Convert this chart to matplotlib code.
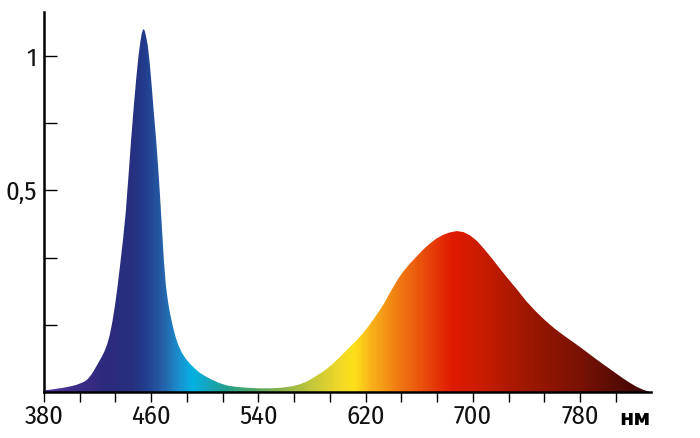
import numpy as np
import matplotlib
matplotlib.use("Agg")
import matplotlib.pyplot as plt
from matplotlib.colors import LinearSegmentedColormap, Normalize
from matplotlib.patches import Polygon

# spectrum (nm, relative intensity)
wavelength = [380, 385, 390, 395, 400, 404, 408, 411, 413, 415, 417, 419, 421, 423,
              425, 427, 429, 431, 433, 435, 437, 439, 441, 443, 445, 447, 449, 450.5,
              452, 453, 454, 455, 456, 457.5, 459, 460.5, 462, 463.5, 465, 466.5,
              468, 469.5, 471, 472.5, 474, 476, 478, 480, 483, 486, 489, 492, 496,
              500, 505, 510, 516, 522, 530, 540, 550, 558, 565, 571, 576, 580, 584,
              588, 592, 596, 600, 604, 608, 613, 618, 622, 626, 630, 634, 637, 640,
              644, 648, 653, 658, 663, 668, 673, 678, 683, 688, 693, 698, 703, 708,
              715, 722, 728, 733, 740, 747, 754, 761, 768, 774, 780, 786, 792, 800,
              806, 812, 817, 822, 827, 832]
intensity = [0.005, 0.007, 0.010, 0.013, 0.017, 0.021, 0.027, 0.033, 0.040, 0.050,
             0.062, 0.076, 0.090, 0.104, 0.120, 0.140, 0.168, 0.208, 0.258, 0.318,
             0.385, 0.455, 0.535, 0.640, 0.750, 0.850, 0.940, 1.000, 1.045, 1.068,
             1.080, 1.077, 1.062, 1.030, 0.975, 0.905, 0.830, 0.760, 0.680, 0.590,
             0.490, 0.390, 0.315, 0.270, 0.235, 0.198, 0.167, 0.142, 0.116, 0.098,
             0.084, 0.072, 0.058, 0.048, 0.037, 0.028, 0.020, 0.016, 0.013, 0.011,
             0.011, 0.013, 0.017, 0.023, 0.031, 0.040, 0.050, 0.060, 0.072, 0.086,
             0.101, 0.117, 0.133, 0.153, 0.175, 0.195, 0.217, 0.240, 0.265, 0.287,
             0.308, 0.335, 0.358, 0.382, 0.403, 0.424, 0.442, 0.457, 0.468, 0.475,
             0.479, 0.476, 0.466, 0.450, 0.428, 0.394, 0.358, 0.329, 0.305, 0.270,
             0.240, 0.213, 0.189, 0.168, 0.151, 0.134, 0.116, 0.098, 0.075, 0.058,
             0.041, 0.028, 0.016, 0.007, 0.0]

x_ticks = [380, 460, 540, 620, 700, 780]
y_ticks = [0.2, 0.4, 0.6, 0.8, 1.0]
y_labels = ["", "", "0,5", "", "1"]

# colour of the fill at each wavelength
stop_nm = [380, 400, 425, 445, 455, 468, 480, 490, 500, 515, 535, 555, 580, 600,
           612, 625, 645, 665, 685, 705, 740, 780, 833]
stop_col = ["#56389a", "#3f2d8a", "#2c2a7c", "#27307f", "#223d8e", "#2660a8",
            "#1a90cf", "#05b2e2", "#12a8c4", "#23a08c", "#4ea46a", "#86b04e",
            "#c4c83a", "#f0d828", "#fde019", "#f8b01a", "#f07a12", "#e84a0c",
            "#e01a00", "#cc1c00", "#a01800", "#7a1204", "#3a0606"]

xmin, xmax = 380, 833
ymax = 1.131

tick_font = ["Fira Sans Condensed", "DejaVu Sans"]

fig = plt.figure(figsize=(7, 4.38), dpi=100)
ax = fig.add_axes([44 / 700, 46 / 438, (651 - 44) / 700, 380 / 438])

cmap = LinearSegmentedColormap.from_list(
    "spec", [((w - xmin) / (xmax - xmin), c) for w, c in zip(stop_nm, stop_col)])
grad = np.linspace(xmin, xmax, 600)[None, :]
im = ax.imshow(grad, extent=[xmin, xmax, 0, ymax], aspect="auto", origin="lower",
               cmap=cmap, norm=Normalize(xmin, xmax), interpolation="bilinear")

verts = np.column_stack([[wavelength[0]] + wavelength + [wavelength[-1]],
                         [0] + intensity + [0]])
clip = Polygon(verts, closed=True, facecolor="none", edgecolor="none")
ax.add_patch(clip)
im.set_clip_path(clip)

ax.set_xlim(xmin, xmax)
ax.set_ylim(0, ymax)

for s in ["top", "right"]:
    ax.spines[s].set_visible(False)
for s in ["left", "bottom"]:
    ax.spines[s].set_linewidth(1.8)
    ax.spines[s].set_color("black")

ax.set_xticks(x_ticks)
ax.set_xticks(np.arange(380, 820, 80 / 3), minor=True)
ax.set_xticklabels([str(v) for v in x_ticks], family=tick_font, fontsize=19,
                   fontweight="normal", color="#111111")
ax.tick_params(axis="x", which="both", direction="out", length=7.5, width=1.0,
               pad=1, color="black")
ax.set_yticks(y_ticks)
ax.set_yticklabels(y_labels, family=tick_font, fontsize=19, fontweight="normal",
                   color="#111111")
ax.tick_params(axis="y", direction="in", length=9.5, width=1.0, pad=5)

ax.text(635 / 700, 19 / 438, "нм", transform=fig.transFigure, ha="center",
        va="center", fontsize=15, fontweight="bold", family="DejaVu Sans")

fig.savefig("out.png", dpi=100)
